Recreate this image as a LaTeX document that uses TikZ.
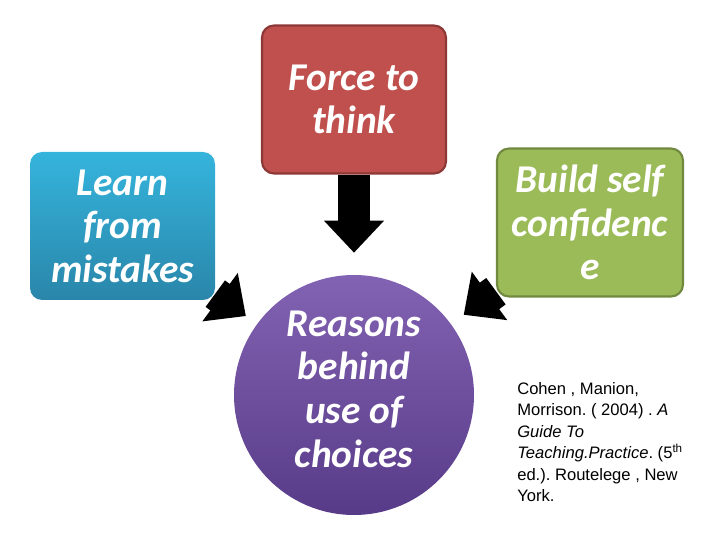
\documentclass[tikz,border=0pt]{standalone}
\usepackage{fontspec}
\setmainfont{Liberation Sans}
\newfontfamily\calibri{Carlito}
\usepackage{tikz}
\usetikzlibrary{arrows.meta}
\pgfdeclarelayer{bg}
\pgfsetlayers{bg,main}

\definecolor{redfill}{HTML}{C0504D}
\definecolor{redline}{HTML}{8C3836}
\definecolor{bluetop}{HTML}{35B4DC}
\definecolor{bluebot}{HTML}{2A86AA}
\definecolor{greenfill}{HTML}{9BBB59}
\definecolor{greenline}{HTML}{71893F}
\definecolor{purpletop}{HTML}{8263B3}
\definecolor{purplebot}{HTML}{583B88}

\tikzset{
  reason/.style={rounded corners=0.3cm, minimum width=4.6cm, minimum height=3.7cm,
    inner sep=0pt, align=center, text=white,
    font=\calibri\bfseries\itshape\fontsize{28}{31}\selectfont},
  bigarrow/.style={line width=0.82cm, -{Triangle[width=1.45cm, length=0.8cm]}}
}

\begin{document}
\frenchspacing
\begin{tikzpicture}
        \useasboundingbox (0,0) rectangle (18,13.5);
        \node (force) [reason, fill=redfill, draw=redline, line width=1.5pt] at (8.850000cm, 11.012500cm) {Force to\\think};
        \node (learn) [reason, minimum width=4.625cm, top color=bluetop, bottom color=bluebot] at (3.062500cm, 7.850000cm) {Learn\\from\\mistakes};
        \node (build) [reason, minimum width=4.65cm, fill=greenfill, draw=greenline, line width=1.5pt] at (14.750000cm, 7.937500cm) {Build self\\confidenc\\e};
        \node (reasons) [reason, circle, minimum size=6cm, text depth=0.3cm, top color=purpletop, bottom color=purplebot] at (8.850000cm, 3.625000cm) {Reasons\\behind\\use of\\choices};
        \node (cite) [anchor=north west, align=left, inner sep=0pt, font=\fontsize{11.8}{15.3}\selectfont] at (12.925000cm, 3.950000cm)
          {Cohen , Manion,\\Morrison. ( 2004) . \textit{A}\\\textit{Guide To}\\\textit{Teaching.Practice}. (5\textsuperscript{th}\\ed.). Routelege , New\\York.};
        \begin{pgfonlayer}{bg}
                \draw (force.south) edge [bigarrow, shorten >=0.55cm] (reasons.north);
                \draw (learn) edge [bigarrow, shorten >=0.34cm] (reasons);
                \draw (build) edge [bigarrow, shorten >=0.39cm] (reasons);
        \end{pgfonlayer}
\end{tikzpicture}
\end{document}
